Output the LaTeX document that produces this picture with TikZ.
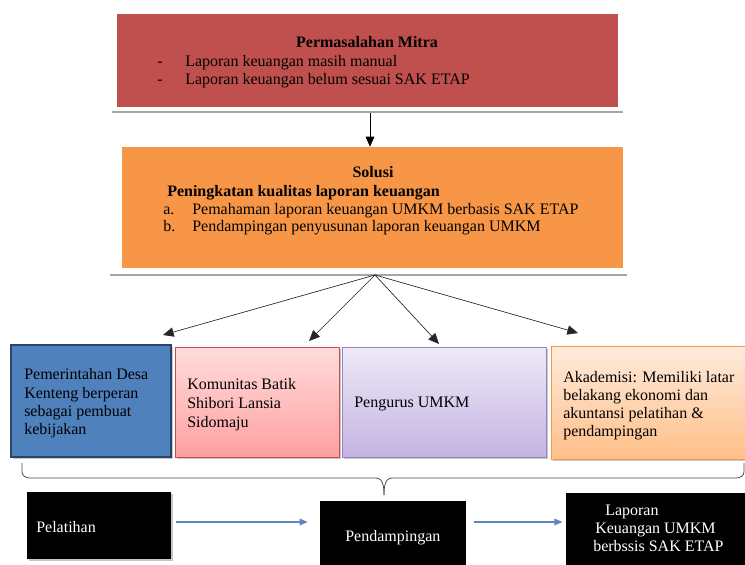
\documentclass[tikz,border=0pt]{standalone}
\usepackage{fontspec}
\setmainfont{Liberation Serif}
\usetikzlibrary{arrows.meta,fit,shadows}
\definecolor{redbox}{HTML}{C0504D}
\definecolor{orangebox}{HTML}{F79646}
\definecolor{bluebox}{HTML}{4F81BD}
\definecolor{blueedge}{HTML}{2A4468}
\definecolor{pinktop}{HTML}{FFDCDC}
\definecolor{pinkbot}{HTML}{FFA0A0}
\definecolor{purptop}{HTML}{EFEAF7}
\definecolor{purpbot}{HTML}{C4B3E2}
\definecolor{purpedge}{HTML}{9A84BE}
\definecolor{peachtop}{HTML}{FEEBDD}
\definecolor{peachbot}{HTML}{FFBF88}
\definecolor{sepgray}{HTML}{A6A6A6}
\definecolor{bluearr}{HTML}{5B87C0}
\begin{document}
\begin{tikzpicture}[x=0.75pt,y=-0.75pt,
  txt/.style={anchor=base west, inner sep=0pt, font=\fontsize{12}{14}\selectfont},
  ctxt/.style={anchor=base, inner sep=0pt, font=\fontsize{12}{14}\selectfont\bfseries},
  wtxt/.style={txt, text=white},
  boxf/.style={inner sep=0pt, rectangle},
  shad/.style={drop shadow={shadow xshift=1.2pt, shadow yshift=-1.5pt, fill=gray!55, opacity=0.8}},
  arr/.style={draw=black, line width=0.6pt, -{Triangle[length=7.5pt,width=6.5pt]}},
  fan/.style={draw=black!85, line width=0.5pt, -{Triangle[length=8pt,width=7pt]}},
  barr/.style={draw=bluearr, line width=0.8pt, -{Triangle[length=6pt,width=5pt]}},
  sep/.style={draw=sepgray, line width=2.2pt},
  brace/.style={draw=black!70, line width=0.6pt}]
\useasboundingbox (0,0) rectangle (745,564);
\fill[white] (0,0) rectangle (745,564);

% ---- top red box ----
\node[boxf, fill=redbox, fit={(117,14)(618,107)}] (red) {};
\draw[sep] (112,112) -- (623,112);
\node[ctxt] (redtitle) at (367,47) {Permasalahan Mitra};
\node[txt] (rd1) at (157,66) {-};
\node[txt] (rt1) at (185,66) {Laporan keuangan masih manual};
\node[txt] (rd2) at (157,84) {-};
\node[txt] (rt2) at (185,84) {Laporan keuangan belum sesuai SAK ETAP};

% ---- orange box ----
\node[boxf, fill=orangebox, fit={(122,147)(623,268)}] (orange) {};
\draw[sep] (110,275) -- (627,275);
\coordinate (topstart) at (370,113);
\draw[arr] (topstart) -- (topstart |- orange.north);
\node[ctxt] (soltitle) at (373,177) {Solusi};
\node[txt, font=\fontsize{12}{14}\selectfont\bfseries] (solsub) at (167,196) {Peningkatan kualitas laporan keuangan};
\node[txt] (sa) at (163,214) {a.};
\node[txt] (sat) at (192,214) {Pemahaman laporan keuangan UMKM berbasis SAK ETAP};
\node[txt] (sb) at (163,231) {b.};
\node[txt] (sbt) at (192,231) {Pendampingan penyusunan laporan keuangan UMKM};

% ---- four stakeholder boxes ----
\node[boxf, shad, fill=bluebox, draw=blueedge, line width=2.2pt, fit={(11,345)(171,457)}] (blue) {};
\node[boxf, shad, top color=pinktop, bottom color=pinkbot, draw=redbox, line width=0.6pt, fit={(175,347)(339,457)}] (pink) {};
\node[boxf, shad, top color=purptop, bottom color=purpbot, draw=purpedge, line width=0.6pt, fit={(342,347)(546,457)}] (purple) {};
\node[boxf, shad, top color=peachtop, bottom color=peachbot, draw=orangebox, line width=0.6pt, fit={(551,346)(748,459)}] (peach) {};

\node[txt] (b1) at (24,379) {Pemerintahan Desa};
\node[txt] (b2) at (24,398) {Kenteng berperan};
\node[txt] (b3) at (24,416) {sebagai pembuat};
\node[txt] (b4) at (24,434) {kebijakan};

\node[txt] (p1) at (187,389) {Komunitas Batik};
\node[txt] (p2) at (187,408) {Shibori Lansia};
\node[txt] (p3) at (187,427) {Sidomaju};

\node[txt] (u1) at (354,407) {Pengurus UMKM};

\node[txt] (k1) at (563,382) {Akademisi: Memiliki latar};
\node[txt] (k2) at (563,400) {belakang ekonomi dan};
\node[txt] (k3) at (563,418) {akuntansi  pelatihan \&};
\node[txt] (k4) at (563,436) {pendampingan};

% ---- fan arrows ----
\coordinate (fanorigin) at (375,275);
\coordinate (t1) at (163,335);
\coordinate (t2) at (309,341);
\coordinate (t3) at (439,344);
\coordinate (t4) at (578,333);
\draw[fan] (fanorigin) -- (t1);
\draw[fan] (fanorigin) -- (t2);
\draw[fan] (fanorigin) -- (t3);
\draw[fan] (fanorigin) -- (t4);

% ---- brace ----
\coordinate (brl) at (22,463);
\coordinate (brtip) at (384,495);
\coordinate (brr) at (744,463);
\draw[brace] (brl) -- (22,472) to[out=-90,in=180] (30,478) -- (376,478)
   to[out=0,in=90] (brtip);
\draw[brace] (brtip) to[out=90,in=180] (392,478) -- (736,478)
   to[out=0,in=-90] (744,472) -- (brr);

% ---- bottom row ----
\node[boxf, shad, fill=black, fit={(27,492)(171,559)}] (pel) {};
\node[boxf, fill=black, fit={(320,501)(466,566)}] (pend) {};
\node[boxf, fill=black, fit={(566,493)(747,566)}] (lap) {};
\node[wtxt] (pelt) at (36,532) {Pelatihan};
\node[wtxt] (pendt) at (345,541) {Pendampingan};
\node[wtxt] (l1) at (605,515) {Laporan};
\node[wtxt] (l2) at (595,533) {Keuangan UMKM};
\node[wtxt] (l3) at (593,551) {berbssis SAK ETAP};

\coordinate (arrowrow) at (0,522);
\draw[barr] ([xshift=3.75pt]pel.east |- arrowrow) -- ([xshift=-9pt]pend.west |- arrowrow);
\draw[barr] ([xshift=6pt]pend.east |- arrowrow) -- ([xshift=-2.5pt]lap.west |- arrowrow);
\end{tikzpicture}
\end{document}
